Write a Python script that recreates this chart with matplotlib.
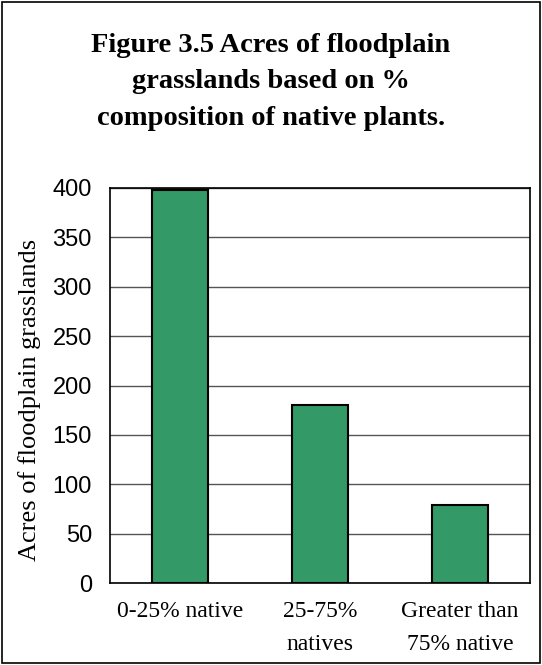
import matplotlib.pyplot as plt
import numpy as np

# Data
categories = ['0-25% native', '25-75%\nnatives', 'Greater than\n75% native']
acres = [398, 180, 79]
yticks = [0, 50, 100, 150, 200, 250, 300, 350, 400]

fig = plt.figure(figsize=(5.42, 6.65), dpi=100)
ax = fig.add_axes([110/542, 1 - 583/665, 420/542, 395/665])

x = np.arange(len(categories))
ax.bar(x, acres, width=0.4, color='#339966', edgecolor='black', linewidth=1.5, zorder=3)

ax.set_xlim(-0.5, len(categories) - 0.5)
ax.set_ylim(0, 400)
ax.set_yticks(yticks)
ax.yaxis.grid(True, color='#555555', linewidth=1, zorder=0)
ax.tick_params(axis='both', length=0)
ax.tick_params(axis='y', pad=13, labelsize=17)
for lbl in ax.get_yticklabels():
    lbl.set_family('Liberation Sans')
ax.set_xticks(x)
ax.set_xticklabels(categories, family='Liberation Serif', fontsize=17, linespacing=1.75, va='top')
ax.tick_params(axis='x', pad=13)
for s in ax.spines.values():
    s.set_linewidth(1.2)

fig.text(30/542, 1 - 400/665, 'Acres of floodplain grasslands', rotation=90,
         ha='center', va='center', family='Liberation Serif', fontsize=19)

fig.text(0.5, 1 - 82/665, 'Figure 3.5 Acres of floodplain\ngrasslands based on %\ncomposition of native plants.',
         ha='center', va='center', family='Liberation Serif', fontweight='bold',
         fontsize=20.5, linespacing=1.58)

# Outer frame
fig.patches.append(plt.Rectangle((0.004, 0.003), 0.992, 0.994, transform=fig.transFigure,
                                 fill=False, edgecolor='black', linewidth=1.2))

plt.savefig('out.png', dpi=100)
